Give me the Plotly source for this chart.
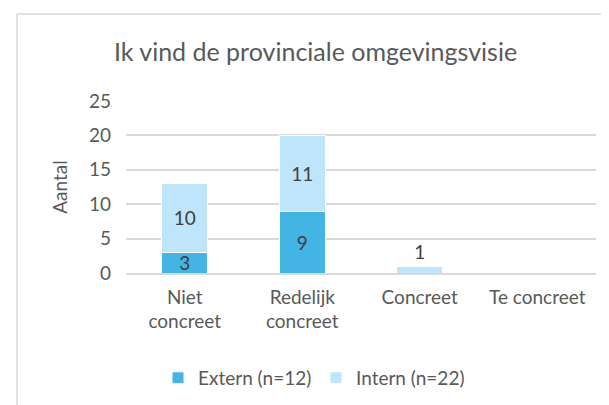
import plotly.graph_objects as go

categories = ["Niet<br>concreet", "Redelijk<br>concreet", "Concreet", "Te concreet"]
extern = [3, 9, 0, 0]
intern = [10, 11, 1, 0]
series_names = ["Extern (n=12)", "Intern (n=22)"]
y_ticks = [0, 5, 10, 15, 20, 25]

FONT = "Lato, Open Sans, sans-serif"
c_ext = "#44B4E4"
c_int = "#BEE5F9"

def lbl(v):
    return [str(x) if x else "" for x in v]

fig = go.Figure()
fig.add_trace(go.Bar(
    x=categories, y=extern, name=series_names[0], marker_color=c_ext,
    marker_line=dict(color="white", width=1),
    text=lbl(extern), textposition="inside", insidetextanchor="middle",
    textangle=0, constraintext="none",
    textfont=dict(size=19, color="#404040", family=FONT),
))
fig.add_trace(go.Bar(
    x=categories, y=intern, name=series_names[1], marker_color=c_int,
    marker_line=dict(color="white", width=1),
    text=lbl(intern), textposition=["inside", "inside", "outside", "inside"],
    insidetextanchor="middle", cliponaxis=False, textangle=0, constraintext="none",
    textfont=dict(size=19, color="#404040", family=FONT),
))

fig.update_layout(
    width=609, height=405,
    margin=dict(l=118, r=21, t=93, b=140),
    barmode="stack", bargap=0.605,
    paper_bgcolor="white", plot_bgcolor="white",
    font=dict(family=FONT, color="#595959", size=19),
    title=dict(text="Ik vind de provinciale omgevingsvisie", x=0.505, xanchor="center",
               y=0.89, yanchor="middle", font=dict(size=25, color="#595959", family=FONT)),
    showlegend=True,
    legend=dict(orientation="h", x=(150 - 118) / 470, xanchor="left", y=-0.61, yanchor="middle",
                font=dict(size=19, color="#595959"), itemwidth=30, traceorder="normal",
                entrywidth=113, entrywidthmode="pixels"),
    uniformtext=dict(minsize=8, mode="show"),
)
fig.update_yaxes(range=[0, 25], tickvals=y_ticks, showgrid=True, gridcolor="#D9D9D9",
                 gridwidth=1.5, zeroline=False, showline=False, ticks="", ticklen=0,
                 automargin=False, ticklabelstandoff=14,
                 tickfont=dict(size=19, color="#595959"),
                 title=dict(text="Aantal", font=dict(size=19, color="#595959"), standoff=16))
fig.update_xaxes(showline=True, linecolor="#D9D9D9", linewidth=1.5, ticks="",
                 automargin=False, ticklabelstandoff=6,
                 tickfont=dict(size=19, color="#595959"))

# chart border (left and top edges)
fig.add_shape(type="line", xref="paper", yref="paper",
              x0=(9 - 118) / 470, x1=(609 - 118) / 470,
              y0=(272 - 13) / 172, y1=(272 - 13) / 172,
              line=dict(color="#D9D9D9", width=1.5))
fig.add_shape(type="line", xref="paper", yref="paper",
              x0=(9 - 118) / 470, x1=(9 - 118) / 470,
              y0=(272 - 13) / 172, y1=(272 - 410) / 172,
              line=dict(color="#D9D9D9", width=1.5))

fig.write_html("out.html")
